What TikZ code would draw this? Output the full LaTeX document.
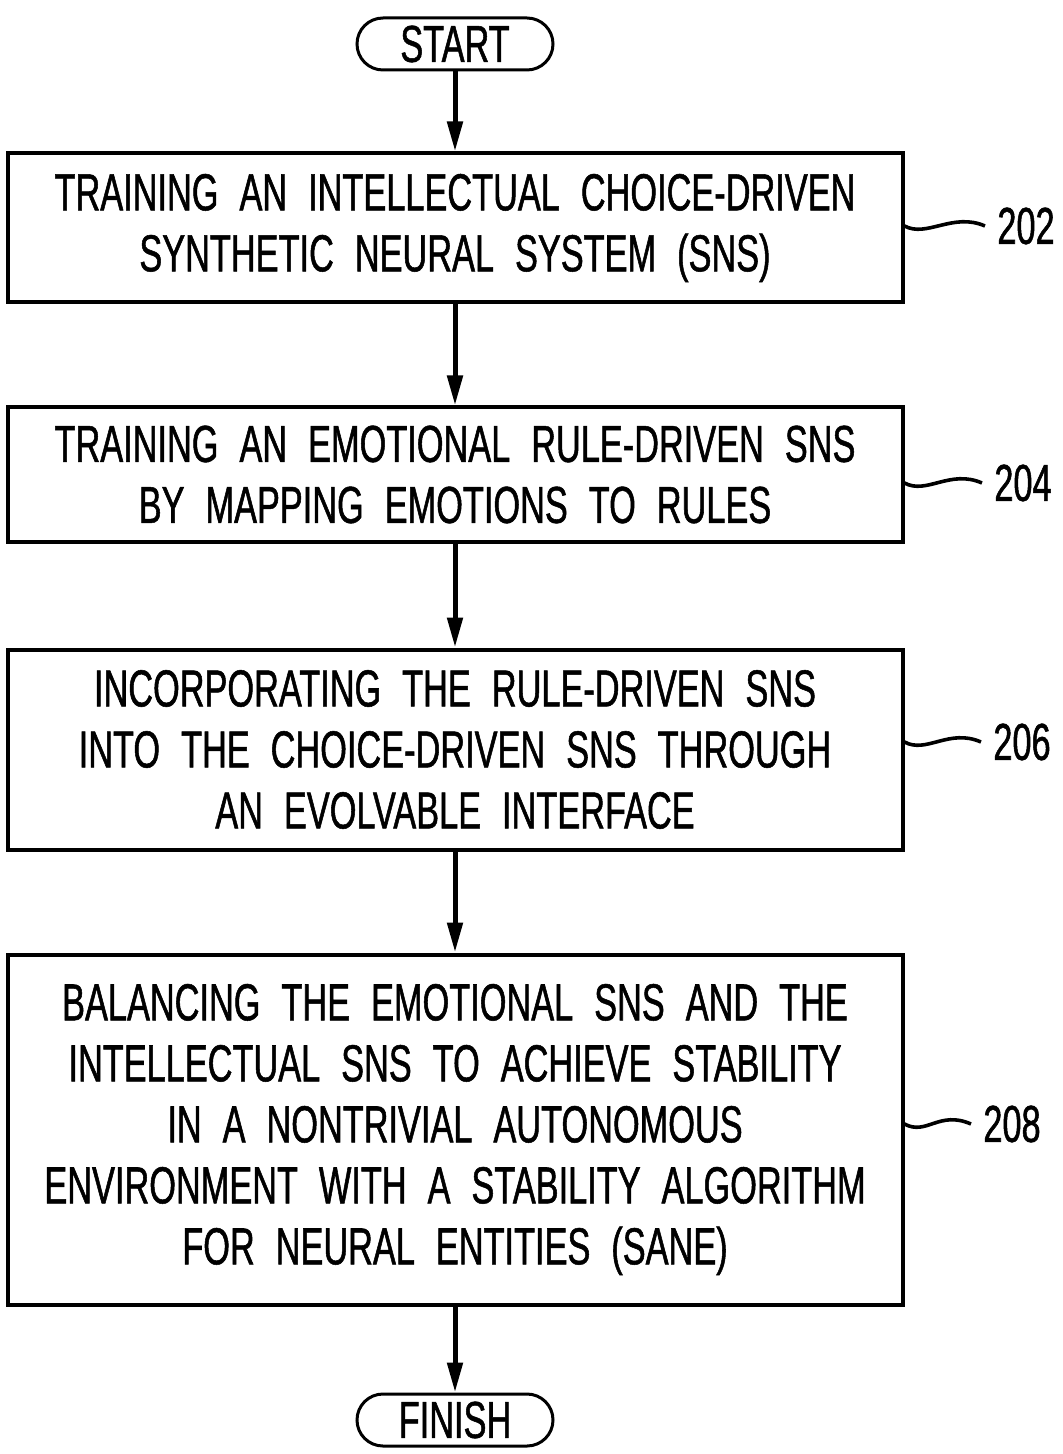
\documentclass[tikz,border=0pt]{standalone}
\usepackage{fontspec}
\setmainfont{Liberation Sans}[FakeStretch=0.66,WordSpace=2.2,FakeBold=1]
\usetikzlibrary{positioning,arrows.meta}
\newcommand{\flowfont}{\fontsize{26}{30.5}\selectfont}

\begin{document}
\begin{tikzpicture}[x=0.5pt,y=-0.5pt,
  terminal/.style={draw, line width=1.5pt, rounded corners=13pt, minimum width=98pt, minimum height=26pt, inner sep=0pt, font=\flowfont},
  stepbox/.style={draw, line width=2pt, minimum width=447.5pt, minimum height=#1, align=center, inner sep=0pt, font=\flowfont},
  flow/.style={line width=2.5pt, -{Triangle[length=15pt,width=7.5pt]}},
  squiggle/.style={line width=1.8pt},
  refnum/.style={font=\flowfont, inner sep=0pt}]

\useasboundingbox (0,0) rectangle (1062,1454);

% STEPS

\node [terminal] (START) at (455,44) {START};

\node [stepbox=74.5pt, below=40pt of START] (TRAINCHOICE)
{TRAINING AN INTELLECTUAL CHOICE-DRIVEN\\
SYNTHETIC NEURAL SYSTEM (SNS)};

\node [stepbox=67pt, below=50.5pt of TRAINCHOICE] (TRAINRULE)
{TRAINING AN EMOTIONAL RULE-DRIVEN SNS\\
BY MAPPING EMOTIONS TO RULES};

\node [stepbox=100pt, below=52pt of TRAINRULE] (INCORPORATE)
{INCORPORATING THE RULE-DRIVEN SNS\\
INTO THE CHOICE-DRIVEN SNS THROUGH\\
AN EVOLVABLE INTERFACE};

\node [stepbox=175pt, below=50.5pt of INCORPORATE] (BALANCE)
{BALANCING THE EMOTIONAL SNS AND THE\\
INTELLECTUAL SNS TO ACHIEVE STABILITY\\
IN A NONTRIVIAL AUTONOMOUS\\
ENVIRONMENT WITH A STABILITY ALGORITHM\\
FOR NEURAL ENTITIES (SANE)};

\node [terminal, below=43pt of BALANCE] (FINISH) {FINISH};

% FLOW

\draw [flow] (START) -- (TRAINCHOICE);
\draw [flow] (TRAINCHOICE) -- (TRAINRULE);
\draw [flow] (TRAINRULE) -- (INCORPORATE);
\draw [flow] (INCORPORATE) -- (BALANCE);
\draw [flow] (BALANCE) -- (FINISH);

% REFERENCE NUMBERS

\node [refnum] (N202) at (1026,226) {202};
\node [refnum] (N204) at (1023,483) {204};
\node [refnum] (N206) at (1022,742) {206};
\node [refnum] (N208) at (1012,1124) {208};

\draw [squiggle] (TRAINCHOICE.east |- N202) .. controls +(22,12) and +(-32,-14) .. ([xshift=-6pt]N202.west);
\draw [squiggle] (TRAINRULE.east |- N204) .. controls +(22,12) and +(-32,-14) .. ([xshift=-6pt]N204.west);
\draw [squiggle] (INCORPORATE.east |- N206) .. controls +(22,12) and +(-32,-14) .. ([xshift=-6pt]N206.west);
\draw [squiggle] (BALANCE.east |- N208) .. controls +(22,12) and +(-32,-14) .. ([xshift=-6pt]N208.west);

\end{tikzpicture}
\end{document}
